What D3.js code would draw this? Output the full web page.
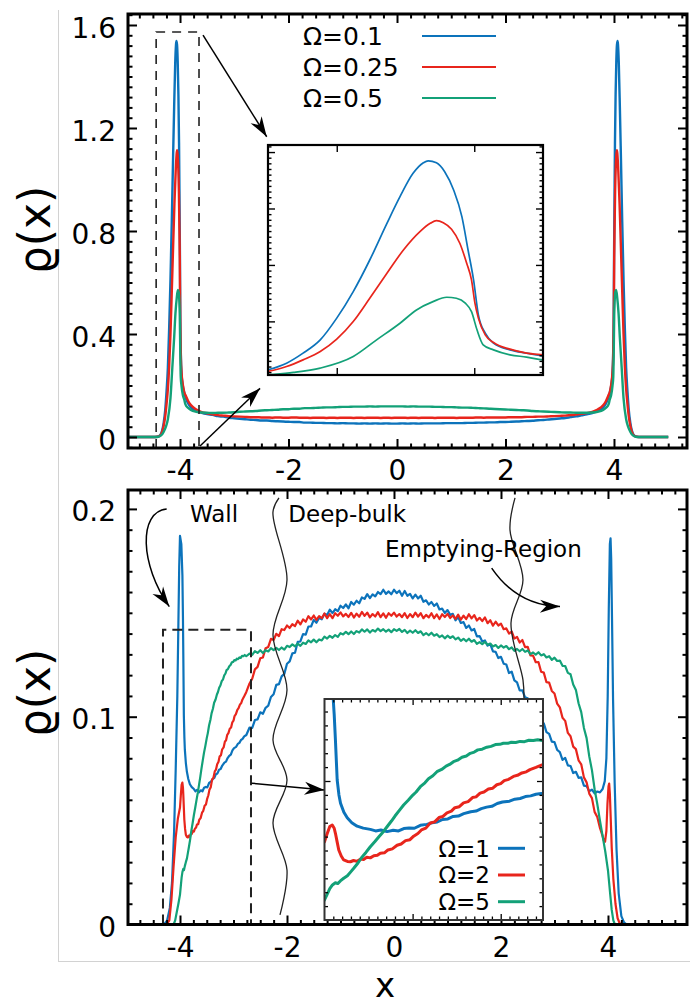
<!DOCTYPE html>
<html>
<head>
<meta charset="utf-8">
<script src="https://cdn.jsdelivr.net/npm/d3@7/dist/d3.min.js"></script>
<style>
  html, body { margin: 0; padding: 0; background: #fff; }
  svg { display: block; }
  text { font-family: "DejaVu Sans", sans-serif; fill: #000; }
</style>
</head>
<body>
<svg id="fig" width="690" height="1005"></svg>
<script>
// ---------------- data ----------------
const xTickValues = [-4, -2, 0, 2, 4];
const topYTickValues = [0, 0.4, 0.8, 1.2, 1.6];
const botYTickValues = [0, 0.1, 0.2];
const topInsetXTicks = [-4.2, -4.0];
const topInsetYTicks = [0.4, 0.8, 1.2, 1.6];
const botInsetXTicks = [-3.5, -3.0];
const botInsetYTicks = [0.1];
const topSeriesNames = ["Ω=0.1", "Ω=0.25", "Ω=0.5"];
const botSeriesNames = ["Ω=1", "Ω=2", "Ω=5"];
const topXDomain = [-4.959, 5.346];
const topYDomain = [-0.0427, 1.6427];
const botXDomain = [-4.972, 5.477];
const botYDomain = [0, 0.2091];
const topInsetXDomain = [-4.3, -3.9];
const topInsetYDomain = [0.02, 1.65];
const botInsetXDomain = [-4.0, -2.76];
const botInsetYDomain = [0, 0.159];

// density profiles, upper panel (x, rho)
const rhoOmega01 = [[-5,0],[-4.5,0],[-4.42,0.001],[-4.37,0.006],[-4.33,0.025],[-4.3,0.057],[-4.273,0.104],[-4.249,0.175],[-4.224,0.269],[-4.2,0.423],[-4.176,0.611],[-4.152,0.835],[-4.127,1.095],[-4.108,1.284],[-4.089,1.449],[-4.074,1.524],[-4.067,1.538],[-4.055,1.524],[-4.043,1.461],[-4.03,1.331],[-4.018,1.142],[-4.009,0.906],[-4.001,0.694],[-3.994,0.446],[-3.984,0.316],[-3.972,0.246],[-3.948,0.198],[-3.924,0.175],[-3.9,0.156],[-3.85,0.13],[-3.8,0.115],[-3.7,0.102],[-3.6,0.094],[-3.5,0.089],[-3.4,0.086],[-3.3,0.081],[-3.2,0.079],[-3.1,0.075],[-3.0,0.073],[-2.9,0.071],[-2.8,0.069],[-2.7,0.067],[-2.6,0.066],[-2.5,0.064],[-2.4,0.064],[-2.3,0.062],[-2.2,0.061],[-2.1,0.060],[-2.0,0.059],[-1.9,0.058],[-1.8,0.058],[-1.7,0.056],[-1.6,0.056],[-1.5,0.055],[-1.4,0.055],[-1.3,0.054],[-1.2,0.054],[-1.1,0.053],[-1.0,0.054],[-0.9,0.053],[-0.8,0.053],[-0.7,0.052],[-0.6,0.053],[-0.5,0.052],[-0.4,0.053],[-0.3,0.052],[-0.2,0.053],[-0.1,0.052],[0,0.052],[0.1,0.053],[0.2,0.052],[0.3,0.053],[0.4,0.052],[0.5,0.053],[0.6,0.053],[0.7,0.053],[0.8,0.053],[0.9,0.054],[1.0,0.054],[1.1,0.054],[1.2,0.054],[1.3,0.055],[1.4,0.055],[1.5,0.056],[1.6,0.056],[1.7,0.057],[1.8,0.057],[1.9,0.058],[2.0,0.058],[2.1,0.059],[2.2,0.060],[2.3,0.061],[2.4,0.062],[2.5,0.063],[2.6,0.065],[2.7,0.066],[2.8,0.068],[2.9,0.070],[3.0,0.072],[3.1,0.074],[3.2,0.077],[3.3,0.080],[3.4,0.084],[3.5,0.088],[3.6,0.093],[3.7,0.101],[3.8,0.114],[3.85,0.129],[3.9,0.156],[3.924,0.175],[3.948,0.198],[3.972,0.246],[3.984,0.316],[3.994,0.446],[4.001,0.694],[4.009,0.906],[4.018,1.142],[4.03,1.331],[4.043,1.461],[4.055,1.524],[4.067,1.538],[4.074,1.524],[4.089,1.449],[4.108,1.284],[4.127,1.095],[4.152,0.835],[4.176,0.611],[4.2,0.423],[4.224,0.269],[4.249,0.175],[4.273,0.104],[4.3,0.057],[4.33,0.025],[4.37,0.006],[4.42,0.001],[4.5,0],[5,0]];
const rhoOmega025 = [[-5,0],[-4.5,0],[-4.42,0.001],[-4.37,0.005],[-4.33,0.02],[-4.3,0.045],[-4.273,0.080],[-4.249,0.127],[-4.224,0.186],[-4.2,0.274],[-4.176,0.399],[-4.152,0.564],[-4.127,0.741],[-4.103,0.906],[-4.079,1.036],[-4.064,1.095],[-4.055,1.114],[-4.045,1.099],[-4.033,1.053],[-4.021,0.954],[-4.011,0.812],[-4.004,0.694],[-3.999,0.529],[-3.994,0.423],[-3.984,0.304],[-3.972,0.250],[-3.948,0.203],[-3.924,0.175],[-3.9,0.163],[-3.85,0.14],[-3.8,0.124],[-3.7,0.107],[-3.6,0.097],[-3.5,0.092],[-3.4,0.088],[-3.3,0.085],[-3.2,0.083],[-3.1,0.081],[-3.0,0.080],[-2.9,0.079],[-2.8,0.078],[-2.7,0.077],[-2.6,0.077],[-2.5,0.076],[-2.4,0.076],[-2.3,0.075],[-2.2,0.076],[-2.1,0.075],[-2.0,0.075],[-1.9,0.076],[-1.8,0.075],[-1.7,0.075],[-1.6,0.074],[-1.5,0.075],[-1.4,0.075],[-1.3,0.074],[-1.2,0.075],[-1.1,0.074],[-1.0,0.075],[-0.9,0.075],[-0.8,0.074],[-0.7,0.075],[-0.6,0.074],[-0.5,0.075],[-0.4,0.075],[-0.3,0.074],[-0.2,0.075],[-0.1,0.074],[0,0.075],[0.1,0.075],[0.2,0.074],[0.3,0.075],[0.4,0.074],[0.5,0.075],[0.6,0.075],[0.7,0.074],[0.8,0.075],[0.9,0.075],[1.0,0.075],[1.1,0.074],[1.2,0.075],[1.3,0.075],[1.4,0.075],[1.5,0.076],[1.6,0.075],[1.7,0.076],[1.8,0.076],[1.9,0.076],[2.0,0.076],[2.1,0.077],[2.2,0.077],[2.3,0.077],[2.4,0.078],[2.5,0.078],[2.6,0.079],[2.7,0.079],[2.8,0.080],[2.9,0.081],[3.0,0.082],[3.1,0.083],[3.2,0.085],[3.3,0.087],[3.4,0.090],[3.5,0.093],[3.6,0.098],[3.7,0.107],[3.8,0.123],[3.85,0.139],[3.9,0.163],[3.924,0.175],[3.948,0.203],[3.972,0.250],[3.984,0.304],[3.994,0.423],[3.999,0.529],[4.004,0.694],[4.011,0.812],[4.021,0.954],[4.033,1.053],[4.045,1.099],[4.055,1.114],[4.064,1.095],[4.079,1.036],[4.103,0.906],[4.127,0.741],[4.152,0.564],[4.176,0.399],[4.2,0.274],[4.224,0.186],[4.249,0.127],[4.273,0.080],[4.3,0.045],[4.33,0.02],[4.37,0.005],[4.42,0.001],[4.5,0],[5,0]];
const rhoOmega05 = [[-5,0],[-4.45,0],[-4.4,0.001],[-4.35,0.006],[-4.32,0.013],[-4.3,0.021],[-4.263,0.038],[-4.224,0.069],[-4.176,0.151],[-4.142,0.269],[-4.108,0.387],[-4.084,0.481],[-4.06,0.540],[-4.04,0.571],[-4.026,0.564],[-4.013,0.529],[-4.004,0.469],[-3.996,0.340],[-3.987,0.234],[-3.972,0.198],[-3.948,0.163],[-3.924,0.147],[-3.9,0.127],[-3.85,0.113],[-3.8,0.105],[-3.7,0.098],[-3.6,0.095],[-3.5,0.094],[-3.4,0.093],[-3.3,0.094],[-3.2,0.094],[-3.1,0.095],[-3.0,0.096],[-2.9,0.098],[-2.8,0.099],[-2.7,0.100],[-2.6,0.101],[-2.5,0.103],[-2.4,0.104],[-2.3,0.105],[-2.2,0.106],[-2.1,0.108],[-2.0,0.108],[-1.9,0.110],[-1.8,0.110],[-1.7,0.112],[-1.6,0.112],[-1.5,0.113],[-1.4,0.114],[-1.3,0.115],[-1.2,0.115],[-1.1,0.116],[-1.0,0.117],[-0.9,0.117],[-0.8,0.118],[-0.7,0.118],[-0.6,0.118],[-0.5,0.119],[-0.4,0.118],[-0.3,0.119],[-0.2,0.119],[-0.1,0.119],[0,0.119],[0.1,0.119],[0.2,0.118],[0.3,0.119],[0.4,0.118],[0.5,0.118],[0.6,0.118],[0.7,0.117],[0.8,0.117],[0.9,0.116],[1.0,0.116],[1.1,0.115],[1.2,0.114],[1.3,0.114],[1.4,0.113],[1.5,0.112],[1.6,0.111],[1.7,0.110],[1.8,0.109],[1.9,0.108],[2.0,0.107],[2.1,0.106],[2.2,0.105],[2.3,0.104],[2.4,0.103],[2.5,0.101],[2.6,0.100],[2.7,0.099],[2.8,0.098],[2.9,0.097],[3.0,0.096],[3.1,0.095],[3.2,0.095],[3.3,0.094],[3.4,0.094],[3.5,0.094],[3.6,0.095],[3.7,0.098],[3.8,0.105],[3.85,0.113],[3.9,0.127],[3.924,0.147],[3.948,0.163],[3.972,0.198],[3.987,0.234],[3.996,0.340],[4.004,0.469],[4.013,0.529],[4.026,0.564],[4.04,0.571],[4.06,0.540],[4.084,0.481],[4.108,0.387],[4.142,0.269],[4.176,0.151],[4.224,0.069],[4.263,0.038],[4.3,0.021],[4.32,0.013],[4.35,0.006],[4.4,0.001],[4.45,0],[5,0]];

// density profiles, lower panel (x, rho)
const rhoOmega1 = [[-5,0],[-4.3,0],[-4.24,0.002],[-4.19,0.008],[-4.15,0.02],[-4.11,0.045],[-4.08,0.075],[-4.05,0.11],[-4.03,0.145],[-4.015,0.172],[-4.0,0.187],[-3.975,0.183],[-3.955,0.168],[-3.945,0.148],[-3.938,0.1295],[-3.928,0.1007],[-3.918,0.09],[-3.909,0.084],[-3.89,0.0775],[-3.871,0.0735],[-3.845,0.0700],[-3.815,0.0675],[-3.78,0.0661],[-3.74,0.0652],[-3.71,0.0641],[-3.68,0.0648],[-3.645,0.0636],[-3.61,0.0646],[-3.58,0.0641],[-3.55,0.0658],[-3.52,0.0662],[-3.49,0.0660],[-3.456,0.0681],[-3.42,0.0688],[-3.39,0.0699],[-3.36,0.0705],[-3.33,0.0723],[-3.30,0.0727],[-3.27,0.0745],[-3.24,0.0748],[-3.21,0.0765],[-3.17,0.0779],[-3.14,0.0784],[-3.11,0.0801],[-3.08,0.0812],[-3.05,0.0818],[-3.02,0.0838],[-2.99,0.0849],[-2.95,0.0855],[-2.92,0.0869],[-2.89,0.0874],[-2.86,0.0888],[-2.83,0.0893],[-2.80,0.0905],[-2.76,0.0912],[-2.70,0.0948],[-2.65,0.0946],[-2.60,0.0984],[-2.55,0.0987],[-2.50,0.1021],[-2.45,0.1014],[-2.40,0.1043],[-2.35,0.1053],[-2.30,0.1095],[-2.25,0.1108],[-2.20,0.1153],[-2.15,0.1157],[-2.10,0.1194],[-2.05,0.1206],[-2.00,0.1255],[-1.95,0.1266],[-1.90,0.1305],[-1.85,0.1308],[-1.80,0.1360],[-1.75,0.1362],[-1.70,0.1397],[-1.65,0.1395],[-1.60,0.1434],[-1.55,0.1434],[-1.50,0.1466],[-1.45,0.1452],[-1.40,0.1475],[-1.35,0.1469],[-1.30,0.1495],[-1.25,0.1489],[-1.20,0.1515],[-1.15,0.1499],[-1.10,0.1517],[-1.05,0.1508],[-1.00,0.1534],[-0.95,0.1523],[-0.90,0.1540],[-0.85,0.1522],[-0.80,0.1552],[-0.75,0.1539],[-0.70,0.1558],[-0.65,0.1546],[-0.60,0.1574],[-0.55,0.1567],[-0.50,0.1590],[-0.45,0.1571],[-0.40,0.1589],[-0.35,0.1579],[-0.30,0.1600],[-0.25,0.1590],[-0.20,0.1611],[-0.15,0.1591],[-0.10,0.1603],[-0.05,0.1589],[0.00,0.1611],[0.05,0.1595],[0.10,0.1606],[0.15,0.1582],[0.20,0.1605],[0.25,0.1582],[0.30,0.1591],[0.35,0.1569],[0.40,0.1587],[0.45,0.1569],[0.50,0.1582],[0.55,0.1553],[0.60,0.1560],[0.65,0.1540],[0.70,0.1552],[0.75,0.1533],[0.80,0.1545],[0.85,0.1516],[0.90,0.1520],[0.95,0.1499],[1.00,0.1513],[1.05,0.1490],[1.10,0.1495],[1.15,0.1464],[1.20,0.1480],[1.25,0.1451],[1.30,0.1455],[1.35,0.1427],[1.40,0.1439],[1.45,0.1415],[1.50,0.1422],[1.55,0.1387],[1.60,0.1388],[1.65,0.1362],[1.70,0.1367],[1.75,0.1342],[1.80,0.1349],[1.85,0.1314],[1.90,0.1312],[1.95,0.1282],[2.00,0.1288],[2.05,0.1255],[2.10,0.1251],[2.15,0.1210],[2.20,0.1217],[2.25,0.1175],[2.30,0.1165],[2.35,0.1126],[2.40,0.1127],[2.45,0.1093],[2.50,0.1089],[2.55,0.1045],[2.60,0.1038],[2.65,0.1004],[2.70,0.1002],[2.75,0.0969],[2.80,0.0968],[2.85,0.0926],[2.90,0.0917],[2.95,0.0880],[3.00,0.0878],[3.05,0.0840],[3.10,0.0830],[3.15,0.0792],[3.20,0.0802],[3.25,0.0766],[3.30,0.0763],[3.35,0.0729],[3.40,0.0735],[3.45,0.0706],[3.50,0.0708],[3.55,0.0668],[3.60,0.0666],[3.65,0.0641],[3.70,0.0649],[3.75,0.0631],[3.80,0.0640],[3.85,0.0636],[3.9,0.0652],[3.94,0.069],[3.97,0.080],[3.995,0.110],[4.015,0.152],[4.035,0.183],[4.048,0.1858],[4.06,0.176],[4.075,0.148],[4.095,0.108],[4.125,0.068],[4.16,0.036],[4.2,0.015],[4.25,0.004],[4.3,0.001],[4.35,0],[5,0]];
const rhoOmega2 = [[-5,0],[-4.25,0],[-4.2,0.002],[-4.16,0.012],[-4.12,0.028],[-4.08,0.042],[-4.04,0.051],[-4.0,0.0563],[-3.985,0.062],[-3.97,0.0672],[-3.956,0.0683],[-3.945,0.066],[-3.938,0.0624],[-3.928,0.056],[-3.919,0.0504],[-3.905,0.046],[-3.891,0.0432],[-3.87,0.0421],[-3.853,0.0419],[-3.835,0.0428],[-3.815,0.0422],[-3.795,0.0438],[-3.778,0.0436],[-3.76,0.0451],[-3.74,0.0447],[-3.72,0.0462],[-3.70,0.0466],[-3.683,0.0481],[-3.66,0.0483],[-3.64,0.0504],[-3.615,0.0512],[-3.588,0.0538],[-3.565,0.0547],[-3.54,0.0571],[-3.515,0.0578],[-3.494,0.0603],[-3.47,0.0622],[-3.45,0.0648],[-3.425,0.0661],[-3.40,0.0698],[-3.375,0.0706],[-3.35,0.0737],[-3.328,0.0745],[-3.305,0.0771],[-3.28,0.0783],[-3.26,0.0808],[-3.235,0.0815],[-3.211,0.0843],[-3.185,0.0852],[-3.16,0.0881],[-3.14,0.0886],[-3.117,0.0913],[-3.095,0.0921],[-3.07,0.0942],[-3.045,0.0948],[-3.022,0.0973],[-3.0,0.0981],[-2.98,0.1003],[-2.955,0.1012],[-2.928,0.1033],[-2.905,0.1041],[-2.88,0.1058],[-2.855,0.1066],[-2.834,0.1082],[-2.80,0.1098],[-2.762,0.1118],[-2.70,0.1160],[-2.65,0.1183],[-2.60,0.1228],[-2.55,0.1240],[-2.50,0.1281],[-2.45,0.1285],[-2.40,0.1330],[-2.35,0.1336],[-2.30,0.1375],[-2.25,0.1369],[-2.20,0.1399],[-2.15,0.1388],[-2.10,0.1421],[-2.05,0.1417],[-2.00,0.1439],[-1.95,0.1427],[-1.90,0.1445],[-1.85,0.1436],[-1.80,0.1462],[-1.75,0.1444],[-1.70,0.1468],[-1.65,0.1457],[-1.60,0.1484],[-1.55,0.1468],[-1.50,0.1487],[-1.45,0.1466],[-1.40,0.1484],[-1.35,0.1474],[-1.30,0.1497],[-1.25,0.1474],[-1.20,0.1494],[-1.15,0.1474],[-1.10,0.1498],[-1.05,0.1486],[-1.00,0.1502],[-0.95,0.1483],[-0.90,0.1495],[-0.85,0.1480],[-0.80,0.1500],[-0.75,0.1477],[-0.70,0.1496],[-0.65,0.1481],[-0.60,0.1504],[-0.55,0.1485],[-0.50,0.1501],[-0.45,0.1478],[-0.40,0.1494],[-0.35,0.1482],[-0.30,0.1503],[-0.25,0.1479],[-0.20,0.1497],[-0.15,0.1476],[-0.10,0.1498],[-0.05,0.1486],[0.00,0.1501],[0.05,0.1482],[0.10,0.1494],[0.15,0.1479],[0.20,0.1498],[0.25,0.1475],[0.30,0.1494],[0.35,0.1479],[0.40,0.1501],[0.45,0.1482],[0.50,0.1498],[0.55,0.1474],[0.60,0.1490],[0.65,0.1478],[0.70,0.1498],[0.75,0.1474],[0.80,0.1492],[0.85,0.1470],[0.90,0.1493],[0.95,0.1480],[1.00,0.1495],[1.05,0.1475],[1.10,0.1487],[1.15,0.1471],[1.20,0.1491],[1.25,0.1467],[1.30,0.1486],[1.35,0.1470],[1.40,0.1493],[1.45,0.1473],[1.50,0.1489],[1.55,0.1463],[1.60,0.1476],[1.65,0.1460],[1.70,0.1478],[1.75,0.1450],[1.80,0.1464],[1.85,0.1438],[1.90,0.1457],[1.95,0.1439],[2.00,0.1448],[2.05,0.1421],[2.10,0.1425],[2.15,0.1400],[2.20,0.1410],[2.25,0.1376],[2.30,0.1384],[2.35,0.1357],[2.40,0.1369],[2.45,0.1335],[2.50,0.1336],[2.55,0.1295],[2.60,0.1294],[2.65,0.1262],[2.70,0.1263],[2.75,0.1216],[2.80,0.1212],[2.85,0.1166],[2.90,0.1164],[2.95,0.1124],[3.00,0.1112],[3.05,0.1063],[3.10,0.1045],[3.15,0.0995],[3.20,0.0980],[3.25,0.0922],[3.30,0.0906],[3.35,0.0856],[3.40,0.0844],[3.45,0.0790],[3.50,0.0771],[3.55,0.0708],[3.60,0.0684],[3.65,0.0630],[3.70,0.0608],[3.75,0.0542],[3.80,0.0517],[3.85,0.0465],[3.90,0.0425],[3.92,0.0405],[3.945,0.0398],[3.97,0.045],[3.99,0.058],[4.01,0.0665],[4.022,0.0678],[4.035,0.063],[4.05,0.052],[4.07,0.037],[4.1,0.022],[4.14,0.01],[4.18,0.003],[4.22,0.0005],[4.25,0],[5,0]];
const rhoOmega5 = [[-5,0],[-4.12,0],[-4.09,0.002],[-4.06,0.006],[-4.03,0.01],[-4.0,0.0144],[-3.985,0.0185],[-3.97,0.0226],[-3.955,0.0252],[-3.938,0.0268],[-3.925,0.0262],[-3.91,0.0281],[-3.891,0.0300],[-3.87,0.0318],[-3.85,0.0348],[-3.834,0.0372],[-3.81,0.041],[-3.79,0.0448],[-3.765,0.0486],[-3.74,0.0527],[-3.715,0.0563],[-3.69,0.0601],[-3.665,0.0637],[-3.645,0.0671],[-3.62,0.0712],[-3.60,0.0748],[-3.575,0.0789],[-3.551,0.0827],[-3.525,0.0861],[-3.50,0.0897],[-3.48,0.0921],[-3.456,0.0959],[-3.43,0.0987],[-3.41,0.1016],[-3.385,0.1038],[-3.362,0.1067],[-3.335,0.1083],[-3.31,0.1107],[-3.29,0.1119],[-3.268,0.1139],[-3.245,0.1150],[-3.22,0.1171],[-3.195,0.1180],[-3.173,0.1199],[-3.15,0.1208],[-3.13,0.1224],[-3.105,0.1229],[-3.079,0.1243],[-3.055,0.1249],[-3.03,0.1262],[-3.005,0.1264],[-2.985,0.1272],[-2.96,0.1271],[-2.94,0.1279],[-2.915,0.1277],[-2.89,0.1285],[-2.865,0.1283],[-2.84,0.1293],[-2.815,0.1291],[-2.79,0.1297],[-2.762,0.1291],[-2.70,0.1304],[-2.65,0.1298],[-2.60,0.1316],[-2.55,0.1307],[-2.50,0.1320],[-2.45,0.1306],[-2.40,0.1320],[-2.35,0.1314],[-2.30,0.1330],[-2.25,0.1320],[-2.20,0.1331],[-2.15,0.1321],[-2.10,0.1333],[-2.05,0.1323],[-2.00,0.1341],[-1.95,0.1335],[-1.90,0.1348],[-1.85,0.1338],[-1.80,0.1352],[-1.75,0.1341],[-1.70,0.1356],[-1.65,0.1350],[-1.60,0.1367],[-1.55,0.1358],[-1.50,0.1371],[-1.45,0.1358],[-1.40,0.1372],[-1.35,0.1367],[-1.30,0.1385],[-1.25,0.1376],[-1.20,0.1389],[-1.15,0.1380],[-1.10,0.1393],[-1.05,0.1384],[-1.00,0.1402],[-0.95,0.1396],[-0.90,0.1408],[-0.85,0.1397],[-0.80,0.1410],[-0.75,0.1398],[-0.70,0.1412],[-0.65,0.1405],[-0.60,0.1420],[-0.55,0.1409],[-0.50,0.1420],[-0.45,0.1405],[-0.40,0.1417],[-0.35,0.1410],[-0.30,0.1424],[-0.25,0.1412],[-0.20,0.1421],[-0.15,0.1409],[-0.10,0.1419],[-0.05,0.1407],[0.00,0.1421],[0.05,0.1413],[0.10,0.1422],[0.15,0.1408],[0.20,0.1418],[0.25,0.1403],[0.30,0.1414],[0.35,0.1404],[0.40,0.1416],[0.45,0.1403],[0.50,0.1411],[0.55,0.1393],[0.60,0.1402],[0.65,0.1392],[0.70,0.1404],[0.75,0.1390],[0.80,0.1397],[0.85,0.1383],[0.90,0.1391],[0.95,0.1377],[1.00,0.1390],[1.05,0.1379],[1.10,0.1387],[1.15,0.1372],[1.20,0.1381],[1.25,0.1365],[1.30,0.1375],[1.35,0.1363],[1.40,0.1375],[1.45,0.1361],[1.50,0.1369],[1.55,0.1351],[1.60,0.1359],[1.65,0.1349],[1.70,0.1360],[1.75,0.1346],[1.80,0.1352],[1.85,0.1338],[1.90,0.1345],[1.95,0.1331],[2.00,0.1343],[2.05,0.1333],[2.10,0.1340],[2.15,0.1325],[2.20,0.1333],[2.25,0.1317],[2.30,0.1326],[2.35,0.1315],[2.40,0.1326],[2.45,0.1312],[2.50,0.1319],[2.55,0.1301],[2.60,0.1309],[2.65,0.1299],[2.70,0.1310],[2.75,0.1295],[2.80,0.1301],[2.85,0.1285],[2.90,0.1291],[2.95,0.1274],[3.00,0.1284],[3.05,0.1268],[3.10,0.1270],[3.15,0.1245],[3.20,0.1244],[3.25,0.1211],[3.30,0.1204],[3.35,0.1155],[3.40,0.1129],[3.45,0.1065],[3.50,0.1022],[3.55,0.0946],[3.60,0.0897],[3.65,0.0809],[3.70,0.0743],[3.75,0.0651],[3.80,0.0580],[3.85,0.0500],[3.90,0.0425],[3.95,0.035],[4.0,0.026],[4.04,0.015],[4.07,0.007],[4.1,0.002],[4.13,0],[5,0]];

const topSeries = [rhoOmega01, rhoOmega025, rhoOmega05];
const botSeries = [rhoOmega1, rhoOmega2, rhoOmega5];

// ---------------- layout ----------------
const colors = ["#0c73bb", "#e8251c", "#13a178"];
const topBox = {x0: 128, x1: 687, y0: 14, y1: 448};
const botBox = {x0: 128, x1: 687, y0: 490, y1: 924.5};
const topInsetBox = {x0: 268, x1: 543, y0: 145, y1: 375};
const botInsetBox = {x0: 324.5, x1: 543, y0: 699, y1: 920};

const svg = d3.select("#fig");
const defs = svg.append("defs");
defs.append("marker").attr("id", "head")
  .attr("viewBox", "-22 -8 24 16").attr("refX", 0).attr("refY", 0)
  .attr("markerWidth", 24).attr("markerHeight", 16)
  .attr("markerUnits", "userSpaceOnUse").attr("orient", "auto")
  .append("path").attr("d", "M0,0 L-20,-6.5 L-14,0 L-20,6.5 Z").attr("fill", "#000");

function clip(id, b) {
  defs.append("clipPath").attr("id", id).append("rect")
    .attr("x", b.x0).attr("y", b.y0).attr("width", b.x1 - b.x0).attr("height", b.y1 - b.y0);
}
clip("cTop", topBox); clip("cBot", botBox); clip("cTopIn", topInsetBox); clip("cBotIn", botInsetBox);

// figure border lines
svg.append("line").attr("x1", 58.5).attr("x2", 58.5).attr("y1", 10).attr("y2", 962)
  .attr("stroke", "#d2d2d2").attr("stroke-width", 1);
svg.append("line").attr("x1", 58).attr("x2", 690).attr("y1", 961.5).attr("y2", 961.5)
  .attr("stroke", "#d2d2d2").attr("stroke-width", 1);

const xTop = d3.scaleLinear().domain(topXDomain).range([topBox.x0, topBox.x1]);
const yTop = d3.scaleLinear().domain(topYDomain).range([topBox.y1, topBox.y0]);
const xBot = d3.scaleLinear().domain(botXDomain).range([botBox.x0, botBox.x1]);
const yBot = d3.scaleLinear().domain(botYDomain).range([botBox.y1, botBox.y0]);
const xTopIn = d3.scaleLinear().domain(topInsetXDomain).range([topInsetBox.x0, topInsetBox.x1]);
const yTopIn = d3.scaleLinear().domain(topInsetYDomain).range([topInsetBox.y1, topInsetBox.y0]);
const xBotIn = d3.scaleLinear().domain(botInsetXDomain).range([botInsetBox.x0, botInsetBox.x1]);
const yBotIn = d3.scaleLinear().domain(botInsetYDomain).range([botInsetBox.y1, botInsetBox.y0]);

const fmt = d => String(+d.toFixed(2));
const inDom = (s) => { const [a, b] = s.domain(); const lo = Math.min(a, b), hi = Math.max(a, b); return v => v >= lo - 1e-9 && v <= hi + 1e-9; };
const minorVals = (s, step, every) => {
  const [a, b] = s.domain(); const lo = Math.min(a, b), hi = Math.max(a, b);
  return d3.range(Math.ceil(lo / step - 1e-6), Math.floor(hi / step + 1e-6) + 1)
    .filter(i => i % every !== 0).map(i => +(i * step).toFixed(4));
};

// inward ticks on all four sides of a frame
function frameAxes(g, x, y, o) {
  const b = {x0: x.range()[0], x1: x.range()[1], y0: y.range()[1], y1: y.range()[0]};
  const side = (axisFn, scale, vals, len, tr, withLabels) => {
    const a = axisFn(scale).tickValues(vals.filter(inDom(scale))).tickSize(-len).tickSizeOuter(0)
      .tickFormat(withLabels ? fmt : () => "");
    const gg = g.append("g").attr("transform", tr).call(a)
      .attr("font-size", null).attr("font-family", null);
    gg.select(".domain").remove();
    gg.selectAll(".tick line").attr("stroke", "#000").attr("stroke-width", o.tickW);
    return gg;
  };
  const xs = [[d3.axisBottom, `translate(0,${b.y1})`, o.xLabels], [d3.axisTop, `translate(0,${b.y0})`, false]];
  xs.forEach(([fn, tr, lab]) => {
    if (o.xMinor.length) side(fn, x, o.xMinor, o.minLen, tr, false);
    const gg = side(fn, x, o.xMajor, o.majLen, tr, lab);
    if (lab) gg.selectAll("text").attr("y", o.xLabelOffset).attr("dy", 0)
      .attr("font-size", o.fontSize).attr("fill", "#000");
  });
  const ys = [[d3.axisLeft, `translate(${b.x0},0)`, o.yLabels], [d3.axisRight, `translate(${b.x1},0)`, false]];
  ys.forEach(([fn, tr, lab]) => {
    if (o.yMinor.length) side(fn, y, o.yMinor, o.minLen, tr, false);
    const gg = side(fn, y, o.yMajor, o.majLen, tr, lab);
    if (lab) gg.selectAll("text").attr("x", -o.yLabelOffset).attr("dy", "0.43em")
      .attr("font-size", o.fontSize).attr("fill", "#000");
  });
  g.append("rect").attr("x", b.x0).attr("y", b.y0).attr("width", b.x1 - b.x0).attr("height", b.y1 - b.y0)
    .attr("fill", "none").attr("stroke", o.frameColor || "#000").attr("stroke-width", o.frameW);
}

function drawCurves(g, series, x, y, clipId, width, curve) {
  const line = d3.line().x(d => x(d[0])).y(d => y(d[1])).curve(curve || d3.curveLinear);
  g.append("g").attr("clip-path", `url(#${clipId})`).selectAll("path").data(series).join("path")
    .attr("d", line).attr("fill", "none").attr("stroke", (d, i) => colors[i])
    .attr("stroke-width", width).attr("stroke-linejoin", "round");
}

const arrowLine = (g, p, q, w) => g.append("line")
  .attr("x1", p[0]).attr("y1", p[1]).attr("x2", q[0]).attr("y2", q[1])
  .attr("stroke", "#000").attr("stroke-width", w).attr("marker-end", "url(#head)");

// ================= upper panel =================
const gTop = svg.append("g");
drawCurves(gTop, topSeries, xTop, yTop, "cTop", 2.4, d3.curveMonotoneX);

// zoom window and pointers
gTop.append("path")
  .attr("d", `M${xTop(-4.44)},${yTop(topYDomain[0])} V${yTop(1.573)} H${xTop(-3.65)} V${yTop(topYDomain[0])}`)
  .attr("fill", "none").attr("stroke", "#222").attr("stroke-width", 1.6).attr("stroke-dasharray", "9,7");
arrowLine(gTop, [xTop(-3.576), yTop(1.561)], [xTop(-2.402), yTop(1.166)], 1.5);
arrowLine(gTop, [xTop(-3.631), yTop(-0.035)], [xTop(-2.525), yTop(0.189)], 1.5);

frameAxes(gTop, xTop, yTop, {
  xMajor: xTickValues, xMinor: minorVals(xTop, 0.25, 8),
  yMajor: topYTickValues, yMinor: minorVals(yTop, 0.04, 10),
  majLen: 9, minLen: 4.5, tickW: 2, frameW: 3, fontSize: 28,
  xLabels: true, yLabels: true, xLabelOffset: 32, yLabelOffset: 12
});

// legend
const legTop = gTop.append("g");
topSeriesNames.forEach((name, i) => {
  const yy = 36 + i * 31;
  legTop.append("text").attr("x", 303).attr("y", yy + 8.8).attr("font-size", 25).text(name);
  legTop.append("line").attr("x1", 422).attr("x2", 496).attr("y1", yy).attr("y2", yy)
    .attr("stroke", colors[i]).attr("stroke-width", 2);
});

// inset: wall peak
const gTopIn = svg.append("g");
gTopIn.append("rect").attr("x", topInsetBox.x0).attr("y", topInsetBox.y0)
  .attr("width", topInsetBox.x1 - topInsetBox.x0).attr("height", topInsetBox.y1 - topInsetBox.y0).attr("fill", "#fff");
drawCurves(gTopIn, topSeries, xTopIn, yTopIn, "cTopIn", 1.7, d3.curveMonotoneX);
frameAxes(gTopIn, xTopIn, yTopIn, {
  xMajor: topInsetXTicks, xMinor: [],
  yMajor: topInsetYTicks, yMinor: minorVals(yTopIn, 0.04, 10),
  majLen: 7, minLen: 3.5, tickW: 1.4, frameW: 2.2, xLabels: false, yLabels: false
});

// ================= lower panel =================
const gBot = svg.append("g");
drawCurves(gBot, botSeries, xBot, yBot, "cBot", 2.2);

gBot.append("path")
  .attr("d", `M${xBot(-4.318)},${yBot(0)} V${yBot(0.1418)} H${xBot(-2.673)} V${yBot(0)}`)
  .attr("fill", "none").attr("stroke", "#222").attr("stroke-width", 2).attr("stroke-dasharray", "10,6");
arrowLine(gBot, [xBot(-2.66), yBot(0.068)], [xBot(-1.299), yBot(0.0647)], 1.5);

// region separators
const wave1 = [[-2.150,0.2053],[-2.262,0.1986],[-2.000,0.1658],[-2.262,0.1394],[-2.000,0.1129],[-2.262,0.0888],[-2.000,0.0696],[-2.262,0.0489],[-2.000,0.0262],[-2.131,0.0046]];
const wave2 = [[2.262,0.2053],[2.168,0.1899],[2.411,0.1658],[2.187,0.1451],[2.411,0.1177],[2.430,0.1090]];
const waveLine = d3.line().x(d => xBot(d[0])).y(d => yBot(d[1])).curve(d3.curveCatmullRom.alpha(0.5));
[wave1, wave2].forEach(w => gBot.append("path").attr("d", waveLine(w))
  .attr("fill", "none").attr("stroke", "#222").attr("stroke-width", 1.3));

// curved pointers
const cubic = (pts) => `M${xBot(pts[0][0])},${yBot(pts[0][1])} C${pts.slice(1).map(p => `${xBot(p[0])},${yBot(p[1])}`).join(" ")}`;
const wallArrow = [[-4.249,0.1999],[-4.785,0.1986],[-4.748,0.1730],[-4.200,0.1530]];
const emptyArrow = [[1.826,0.1715],[2.131,0.1600],[2.542,0.1533],[3.103,0.1530]];
[wallArrow, emptyArrow].forEach(p => gBot.append("path").attr("d", cubic(p))
  .attr("fill", "none").attr("stroke", "#000").attr("stroke-width", 1.5).attr("marker-end", "url(#head)"));

const regionLabels = [["Wall", -3.813, 0.1939], ["Deep-bulk", -1.976, 0.1939], ["Emptying-Region", -0.168, 0.1767]];
regionLabels.forEach(([t, xv, yv]) => gBot.append("text").attr("x", xBot(xv)).attr("y", yBot(yv))
  .attr("font-size", 23).text(t));

frameAxes(gBot, xBot, yBot, {
  xMajor: xTickValues, xMinor: minorVals(xBot, 0.25, 8),
  yMajor: botYTickValues, yMinor: minorVals(yBot, 0.01, 10),
  majLen: 9, minLen: 4.5, tickW: 2, frameW: 3, fontSize: 28,
  xLabels: true, yLabels: true, xLabelOffset: 32.5, yLabelOffset: 12
});

// inset: near-wall region
const gBotIn = svg.append("g");
gBotIn.append("rect").attr("x", botInsetBox.x0).attr("y", botInsetBox.y0)
  .attr("width", botInsetBox.x1 - botInsetBox.x0).attr("height", botInsetBox.y1 - botInsetBox.y0).attr("fill", "#fff");
drawCurves(gBotIn, botSeries, xBotIn, yBotIn, "cBotIn", 3);
frameAxes(gBotIn, xBotIn, yBotIn, {
  xMajor: botInsetXTicks, xMinor: minorVals(xBotIn, 0.05, 10),
  yMajor: botInsetYTicks, yMinor: minorVals(yBotIn, 0.01, 10),
  majLen: 6, minLen: 3.5, tickW: 1.3, frameW: 2, frameColor: "#333", xLabels: false, yLabels: false
});
const legBot = gBotIn.append("g");
botSeriesNames.forEach((name, i) => {
  const yy = 848.3 + i * 26.7;
  legBot.append("text").attr("x", 490).attr("y", yy + 8.3).attr("text-anchor", "end").attr("font-size", 23).text(name);
  legBot.append("line").attr("x1", 498).attr("x2", 525).attr("y1", yy).attr("y2", yy)
    .attr("stroke", colors[i]).attr("stroke-width", 3);
});

// axis titles
[[230, "ϱ(x)"], [693, "ϱ(x)"]].forEach(([cy, t]) => svg.append("text")
  .attr("transform", `translate(50,${cy}) rotate(-90)`).attr("text-anchor", "middle")
  .attr("font-size", 44).text(t));
svg.append("text").attr("x", 385).attr("y", 996.5).attr("text-anchor", "middle").attr("font-size", 34).text("x");
</script>
</body>
</html>
